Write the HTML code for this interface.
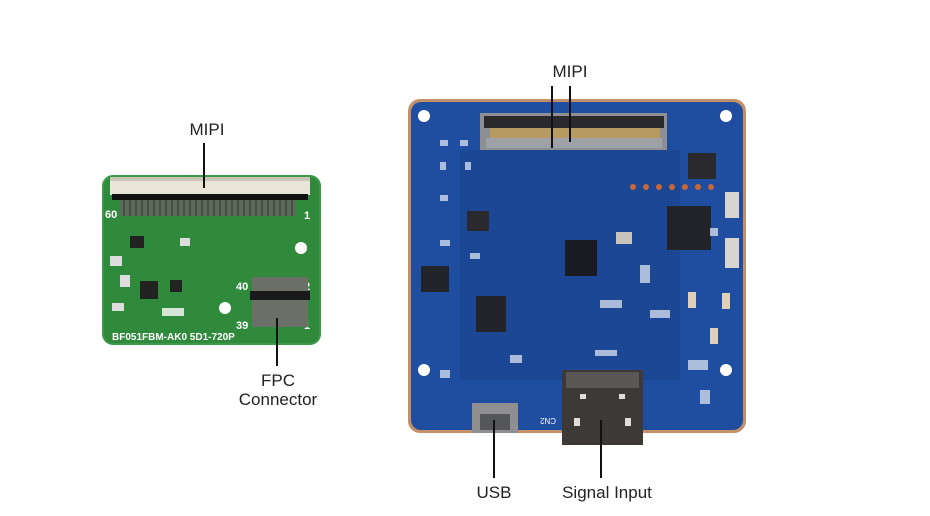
<!DOCTYPE html>
<html><head><meta charset="utf-8"><style>
html,body{margin:0;padding:0;background:#fff;}
svg{display:block;}
text{font-family:"Liberation Sans",sans-serif;fill:#222;}
</style></head><body>
<svg width="930" height="516" viewBox="0 0 930 516" xmlns="http://www.w3.org/2000/svg">
<rect width="930" height="516" fill="#fff"/>
<!-- Green board -->
<rect x="103" y="176" width="217" height="168" rx="10" fill="#2f8a3c"/>
<rect x="103" y="176" width="217" height="168" rx="10" fill="none" stroke="#3a9a48" stroke-width="2"/>
<rect x="110" y="177" width="200" height="18" fill="#e8e4d8"/>
<rect x="110" y="177" width="200" height="4" fill="#c9c4b5"/>
<rect x="112" y="194" width="196" height="6" fill="#111"/>
<rect x="120" y="200" width="176" height="16" fill="#5b6a5a"/>
<g stroke="#2b3a2b" stroke-width="1">
<path d="M124 200v16M130 200v16M136 200v16M142 200v16M148 200v16M154 200v16M160 200v16M166 200v16M172 200v16M178 200v16M184 200v16M190 200v16M196 200v16M202 200v16M208 200v16M214 200v16M220 200v16M226 200v16M232 200v16M238 200v16M244 200v16M250 200v16M256 200v16M262 200v16M268 200v16M274 200v16M280 200v16M286 200v16M292 200v16"/>
</g>
<text x="105" y="218" font-size="11" fill="#fff" style="fill:#fff" font-weight="bold">60</text>
<text x="304" y="219" font-size="11" style="fill:#fff" font-weight="bold">1</text>
<text x="304" y="290" font-size="11" style="fill:#fff" font-weight="bold">2</text>
<text x="304" y="329" font-size="11" style="fill:#fff" font-weight="bold">1</text>
<text x="236" y="290" font-size="11" style="fill:#fff" font-weight="bold">40</text>
<text x="236" y="329" font-size="11" style="fill:#fff" font-weight="bold">39</text>
<circle cx="301" cy="248" r="6" fill="#fff"/>
<circle cx="225" cy="308" r="6" fill="#fff"/>
<rect x="252" y="277" width="56" height="50" fill="#6a6f68"/>
<rect x="250" y="291" width="60" height="9" fill="#1a1a1a"/>
<rect x="140" y="281" width="18" height="18" fill="#222"/>
<rect x="170" y="280" width="12" height="12" fill="#222"/>
<rect x="162" y="308" width="22" height="8" fill="#fff" opacity=".8"/>
<rect x="130" y="236" width="14" height="12" fill="#222"/>
<rect x="180" y="238" width="10" height="8" fill="#ddd"/>
<rect x="110" y="256" width="12" height="10" fill="#ddd"/>
<rect x="120" y="275" width="10" height="12" fill="#ddd"/>
<rect x="112" y="303" width="12" height="8" fill="#ddd"/>
<text x="112" y="340" font-size="10" style="fill:#fff" font-weight="bold">BF051FBM-AK0  5D1-720P</text>
<!-- Blue board -->
<rect x="408" y="99" width="338" height="334" rx="12" fill="#c49068"/>
<rect x="411" y="102" width="332" height="328" rx="10" fill="#1f4ea0"/>
<rect x="460" y="150" width="220" height="230" fill="#1c4794"/>
<circle cx="424" cy="116" r="6" fill="#fff"/>
<circle cx="726" cy="116" r="6" fill="#fff"/>
<circle cx="424" cy="370" r="6" fill="#fff"/>
<circle cx="726" cy="370" r="6" fill="#fff"/>
<rect x="480" y="113" width="187" height="37" fill="#8d8f92"/>
<rect x="484" y="116" width="180" height="12" fill="#2a2a2c"/>
<rect x="490" y="128" width="170" height="10" fill="#b69a60"/>
<rect x="486" y="138" width="176" height="10" fill="#9ea1a5"/>
<rect x="565" y="240" width="32" height="36" fill="#1b1b22"/>
<rect x="667" y="206" width="44" height="44" fill="#222329"/>
<rect x="725" y="192" width="14" height="26" fill="#d8d4cf"/>
<rect x="725" y="238" width="14" height="30" fill="#d8d4cf"/>
<g fill="#c9663a"><circle cx="633" cy="187" r="3"/><circle cx="646" cy="187" r="3"/><circle cx="659" cy="187" r="3"/><circle cx="672" cy="187" r="3"/><circle cx="685" cy="187" r="3"/><circle cx="698" cy="187" r="3"/><circle cx="711" cy="187" r="3"/></g>
<rect x="616" y="232" width="16" height="12" fill="#c9c4bc"/>
<rect x="421" y="266" width="28" height="26" fill="#23242a"/>
<rect x="476" y="296" width="30" height="36" fill="#23242a"/>
<rect x="467" y="211" width="22" height="20" fill="#2a2a2e"/>
<rect x="688" y="153" width="28" height="26" fill="#2a2a2e"/>
<rect x="688" y="292" width="8" height="16" fill="#e0d0b8"/>
<rect x="722" y="293" width="8" height="16" fill="#e0d0b8"/>
<rect x="710" y="328" width="8" height="16" fill="#e0d0b8"/>
<g fill="#e8eef8" opacity=".7">
<rect x="440" y="140" width="8" height="6"/><rect x="460" y="140" width="8" height="6"/><rect x="440" y="162" width="6" height="8"/><rect x="465" y="162" width="6" height="8"/>
<rect x="440" y="195" width="8" height="6"/><rect x="440" y="240" width="10" height="6"/><rect x="470" y="253" width="10" height="6"/>
<rect x="600" y="300" width="22" height="8"/><rect x="640" y="265" width="10" height="18"/><rect x="650" y="310" width="20" height="8"/>
<rect x="688" y="360" width="20" height="10"/><rect x="700" y="390" width="10" height="14"/><rect x="440" y="370" width="10" height="8"/>
<rect x="510" y="355" width="12" height="8"/><rect x="595" y="350" width="22" height="6"/><rect x="710" y="228" width="8" height="8"/>
</g>
<rect x="472" y="403" width="46" height="30" fill="#8f8f92"/>
<rect x="480" y="414" width="30" height="16" fill="#55565a"/>
<rect x="562" y="370" width="81" height="75" fill="#3c3937"/>
<rect x="566" y="372" width="73" height="16" fill="#5b5754"/>
<rect x="580" y="394" width="6" height="5" fill="#ddd"/><rect x="619" y="394" width="6" height="5" fill="#ddd"/>
<rect x="574" y="418" width="6" height="8" fill="#ddd"/><rect x="625" y="418" width="6" height="8" fill="#ddd"/>
<text x="540" y="424" font-size="8" style="fill:#fff" transform="rotate(180 548 421)">CN2</text>
<!-- Labels and lines -->
<g stroke="#111" stroke-width="2">
<line x1="204" y1="143" x2="204" y2="188"/>
<line x1="277" y1="318" x2="277" y2="366"/>
<line x1="552" y1="86" x2="552" y2="148"/>
<line x1="570" y1="86" x2="570" y2="142"/>
<line x1="494" y1="420" x2="494" y2="478"/>
<line x1="601" y1="420" x2="601" y2="478"/>
</g>
<text x="207" y="135" font-size="17" text-anchor="middle">MIPI</text>
<text x="278" y="386" font-size="17" text-anchor="middle">FPC</text>
<text x="278" y="405" font-size="17" text-anchor="middle">Connector</text>
<text x="570" y="77" font-size="17" text-anchor="middle">MIPI</text>
<text x="494" y="498" font-size="17" text-anchor="middle">USB</text>
<text x="607" y="498" font-size="17" text-anchor="middle">Signal Input</text>
</svg>
</body></html>
